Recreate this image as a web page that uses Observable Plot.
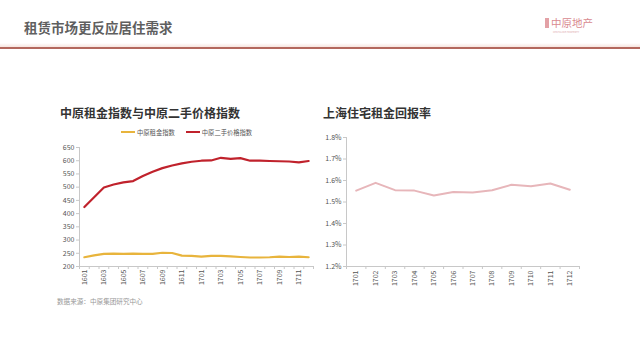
<!DOCTYPE html>
<html>
<head>
<meta charset="utf-8">
<script src="https://cdn.jsdelivr.net/npm/d3@7"></script>
<script src="https://cdn.jsdelivr.net/npm/@observablehq/plot@0.6"></script>
<style>
  html, body { margin: 0; padding: 0; background: #fff; }
  body { width: 640px; height: 361px; position: relative; overflow: hidden; font-family: "Noto Sans CJK SC", "Noto Sans", sans-serif; }
  .abs { position: absolute; white-space: nowrap; }
  #banner { left: 24px; top: 17px; font-size: 13.5px; font-weight: bold; color: #5f5f5f; letter-spacing: 0px; }
  #logo { left: 545px; top: 17px; color: #d98a90; font-size: 10.5px; line-height: 11px; }
  #logo .box { display: inline-block; width: 4px; height: 10px; background: #e3a1a6; vertical-align: -1px; margin-right: 2px; }
  #logo .en { position: absolute; left: 8px; top: 14px; font-size: 2.5px; line-height: 3px; color: #e0a8ac; }
  #shade { left: 0; top: 43px; width: 640px; height: 4px; background: linear-gradient(#fff, #f6e4df); }
  #rule { left: 0; top: 47px; width: 640px; height: 2px; background: #b3685e; }
  .ctitle { font-size: 12px; font-weight: bold; color: #333; }
  #t1 { left: 60px; top: 104px; }
  #t2 { left: 323px; top: 104px; }
  #legend { left: 121px; top: 128px; font-size: 6.3px; color: #555; }
  #legend span.sw { display: inline-block; width: 14px; height: 2px; vertical-align: 2px; margin-right: 2px; }
  #source { left: 57px; top: 296px; font-size: 6.6px; color: #999; }
  #c1 { left: 0; top: 130px; }
  #c2 { left: 320px; top: 130px; }
</style>
</head>
<body>
<div class="abs" id="shade"></div>
<div class="abs" id="rule"></div>
<div class="abs" id="banner">租赁市场更反应居住需求</div>
<div class="abs" id="logo"><span class="box"></span>中原地产<span class="en">CENTALINE PROPERTY</span></div>
<div class="abs ctitle" id="t1">中原租金指数与中原二手价格指数</div>
<div class="abs ctitle" id="t2">上海住宅租金回报率</div>
<div class="abs" id="legend"><span class="sw" style="background:#e8b43c"></span>中原租金指数<span style="display:inline-block;width:11px"></span><span class="sw" style="background:#c0222c"></span>中原二手价格指数</div>
<div class="abs" id="source">数据来源：中原集团研究中心</div>
<div class="abs" id="c1"></div>
<div class="abs" id="c2"></div>
<script>
// ---- Data ----
const months1 = ["1601","1602","1603","1604","1605","1606","1607","1608","1609","1610","1611","1612",
                 "1701","1702","1703","1704","1705","1706","1707","1708","1709","1710","1711","1712"];
const rentIndex = [235,242,248,249,248,249,248,248,252,251,241,240,
                   237,240,240,238,236,234,234,235,237,236,237,235];
const priceIndex = [425,462,499,510,518,523,542,558,572,582,590,596,
                    600,601,611,607,610,600,600,599,598,597,594,599];
const yTicks1 = [200,250,300,350,400,450,500,550,600,650];

const months2 = ["1701","1702","1703","1704","1705","1706","1707","1708","1709","1710","1711","1712"];
const yieldPct = [1.553,1.589,1.555,1.553,1.530,1.547,1.544,1.555,1.580,1.573,1.586,1.557];
const yTicks2 = [1.2,1.3,1.4,1.5,1.6,1.7,1.8];

const font = "'Noto Sans CJK SC', 'Noto Sans', sans-serif";
const axisColor = "#c8c8c8";
const tickText = "#555";

// ---- Left chart ----
const t1 = months1.map((m, i) => ({i, m, rent: rentIndex[i], price: priceIndex[i]}));
const labelIdx1 = months1.map((m, i) => i).filter(i => i % 2 === 0);
const halfIdx1 = d3.range(-0.5, months1.length, 1);

const p1 = Plot.plot({
  width: 330, height: 180,
  marginLeft: 79, marginRight: 17, marginTop: 17, marginBottom: 44,
  style: {fontSize: "7px", fontFamily: font, color: tickText, background: "transparent"},
  x: {type: "linear", domain: [-0.5, months1.length - 0.5]},
  y: {domain: [200, 650]},
  marks: [
    Plot.axisY(yTicks1, {tickSize: 3, tickPadding: 2, stroke: axisColor, color: tickText, label: null}),
    Plot.axisX(labelIdx1, {tickSize: 0, tickPadding: 3, tickRotate: -90, tickFormat: i => months1[i], label: null, color: tickText}),
    Plot.axisX(halfIdx1, {tickSize: 3, tickFormat: () => "", stroke: axisColor, label: null}),
    Plot.ruleX([-0.5], {stroke: axisColor}),
    Plot.ruleY([200], {stroke: axisColor}),
    Plot.lineY(t1, {x: "i", y: "rent", stroke: "#e8b43c", strokeWidth: 2.2}),
    Plot.lineY(t1, {x: "i", y: "price", stroke: "#c0222c", strokeWidth: 2.2})
  ]
});
document.getElementById("c1").append(p1);

// ---- Right chart ----
const t2 = months2.map((m, i) => ({i, m, v: yieldPct[i]}));
const halfIdx2 = d3.range(-0.5, months2.length, 1);

const p2 = Plot.plot({
  width: 300, height: 180,
  marginLeft: 26, marginRight: 41, marginTop: 7, marginBottom: 44,
  style: {fontSize: "7px", fontFamily: font, color: tickText, background: "transparent"},
  x: {type: "linear", domain: [-0.5, months2.length - 0.5]},
  y: {domain: [1.2, 1.8]},
  marks: [
    Plot.axisY(yTicks2, {tickSize: 3, tickPadding: 2, stroke: axisColor, color: tickText, tickFormat: d => d.toFixed(1) + "%", label: null}),
    Plot.axisX(months2.map((m, i) => i), {tickSize: 0, tickPadding: 4, tickRotate: -90, tickFormat: i => months2[i], label: null, color: tickText}),
    Plot.axisX(halfIdx2, {tickSize: 3, tickFormat: () => "", stroke: axisColor, label: null}),
    Plot.ruleX([-0.5], {stroke: axisColor}),
    Plot.ruleY([1.2], {stroke: axisColor}),
    Plot.lineY(t2, {x: "i", y: "v", stroke: "#e7b6ba", strokeWidth: 2})
  ]
});
document.getElementById("c2").append(p2);
</script>
</body>
</html>
